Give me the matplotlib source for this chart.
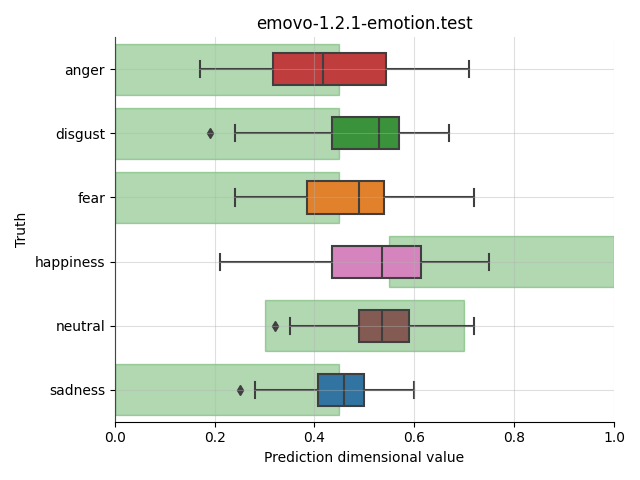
import matplotlib
matplotlib.use("Agg")
import matplotlib.pyplot as plt
import seaborn as sns

emotions = ["anger", "disgust", "fear", "happiness", "neutral", "sadness"]
whislo = [0.170, 0.240, 0.240, 0.210, 0.351, 0.281]
q1 = [0.316, 0.436, 0.385, 0.435, 0.489, 0.408]
med = [0.418, 0.529, 0.489, 0.536, 0.536, 0.459]
q3 = [0.543, 0.569, 0.539, 0.613, 0.590, 0.500]
whishi = [0.709, 0.669, 0.719, 0.750, 0.719, 0.599]
outliers = [[], [0.191], [], [], [0.321], [0.251]]

# expected range for each emotion (green bands)
band_lo = [0.0, 0.0, 0.0, 0.55, 0.30, 0.0]
band_hi = [0.45, 0.45, 0.45, 1.0, 0.70, 0.45]

box_colors = ["tab:red", "tab:green", "tab:orange", "tab:pink", "tab:brown", "tab:blue"]
box_colors = [sns.desaturate(c, 0.75) for c in box_colors]

fig, ax = plt.subplots(figsize=(6.4, 4.8))
pos = list(range(len(emotions)))

ax.barh(pos, [h - l for l, h in zip(band_lo, band_hi)], left=band_lo, height=0.8,
        color="green", alpha=0.3, edgecolor="green", linewidth=1, zorder=1)

stats = []
for i, name in enumerate(emotions):
    stats.append(dict(label=name, whislo=whislo[i], q1=q1[i], med=med[i],
                      q3=q3[i], whishi=whishi[i], fliers=outliers[i]))

lc = "#3f3f3f"
bp = ax.bxp(stats, positions=pos, vert=False, widths=0.5, patch_artist=True,
            boxprops=dict(edgecolor=lc, linewidth=1.5),
            medianprops=dict(color=lc, linewidth=1.5),
            whiskerprops=dict(color=lc, linewidth=1.5),
            capprops=dict(color=lc, linewidth=1.5),
            flierprops=dict(marker="d", markerfacecolor=lc, markeredgecolor=lc, markersize=5),
            zorder=2)
for patch, c in zip(bp["boxes"], box_colors):
    patch.set_facecolor(c)

ax.set_xlim(0, 1)
ax.set_ylim(5.5, -0.5)
ax.set_yticks(pos)
ax.set_yticklabels(emotions)
ax.set_axisbelow(False)
ax.grid(True, alpha=0.4, zorder=3)
ax.spines["top"].set_visible(False)
ax.spines["right"].set_visible(False)
ax.set_title("emovo-1.2.1-emotion.test")
ax.set_xlabel("Prediction dimensional value")
ax.set_ylabel("Truth")
fig.tight_layout()
fig.savefig("out.png", dpi=100)
